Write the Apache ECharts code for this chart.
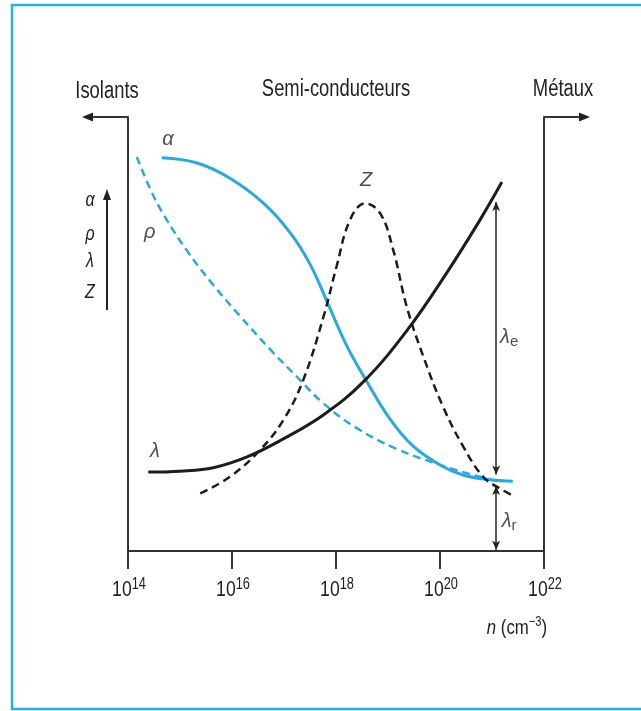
<!DOCTYPE html>
<html>
<head>
<meta charset="utf-8">
<script src="https://cdn.jsdelivr.net/npm/echarts@6.0.0/dist/echarts.min.js"></script>
<style>
  html, body { margin: 0; padding: 0; background: #fff; }
  #chart { width: 641px; height: 711px; }
</style>
</head>
<body>
<div id="chart"></div>
<script>
// x = log10(n) with n in cm^-3, y = relative magnitude (0..100)
const tickExponents = [14, 16, 18, 20, 22];

const alphaCurve = [
  [14.65, 90.6], [15.33, 89.4], [15.96, 85.9], [16.60, 80.2], [17.12, 73.3],
  [17.50, 66.1], [17.83, 57.4], [18.21, 47.2], [18.60, 38.9], [19.04, 30.4],
  [19.48, 24.2], [20.00, 19.8], [20.44, 17.5], [20.96, 16.4], [21.40, 16.1]
];
const rhoCurve = [
  [14.17, 90.8], [14.42, 83.6], [14.69, 77.4], [15.14, 69.1], [15.64, 61.3],
  [16.15, 54.2], [16.73, 46.5], [17.25, 40.1], [17.75, 34.1], [18.40, 28.3],
  [19.17, 23.5], [19.94, 20.1], [20.58, 17.7], [21.10, 16.1]
];
const lambdaCurve = [
  [14.39, 18.2], [15.00, 18.4], [15.64, 19.2], [16.29, 21.7], [16.92, 25.4],
  [17.75, 31.3], [18.52, 38.9], [19.37, 50.9], [20.13, 64.1], [20.77, 76.3],
  [21.19, 85.0]
];
const zCurve = [
  [15.39, 13.3], [15.96, 17.1], [16.54, 23.3], [16.99, 30.2], [17.37, 39.4],
  [17.76, 54.0], [18.01, 65.5], [18.27, 76.3], [18.56, 80.1], [18.85, 77.8],
  [19.10, 69.4], [19.36, 56.3], [19.68, 44.8], [20.06, 33.2], [20.45, 24.0],
  [20.83, 17.1], [21.15, 14.4], [21.38, 12.9]
];

// lambda_e / lambda_r split at a metallic concentration
const markerX = 21.08;
const lambdaESpan = [80.4, 17.6];
const lambdaRSpan = [15.0, 0.3];

// curve name tags: [x, y, text]
const curveTags = [
  [14.77, 94.9, 'α'],
  [14.42, 73.3, 'ρ'],
  [14.52, 23.0, 'λ'],
  [18.58, 85.3, 'Z']
];
const markerTags = [
  [21.33, 49.3, 'e'],
  [21.33, 6.9, 'r']
];

const regionLabels = ['Isolants', 'Semi-conducteurs', 'Métaux'];
const quantityLabels = ['α', 'ρ', 'λ', 'Z'];

const FONT = "'Liberation Sans', Arial, sans-serif";
const NARROW = 0.8;
const INK = '#222';
const BLUE = '#27aae1';
const BLACK = '#1c1c1c';

const chart = echarts.init(document.getElementById('chart'), null, { renderer: 'canvas' });

const curveLine = (name, data, color, width, dashed) => ({
  name, type: 'line', data, showSymbol: false, smooth: 0.4,
  lineStyle: { color, width, type: dashed ? [8, 5] : 'solid' }
});

const option = {
  animation: false,
  backgroundColor: '#fff',
  grid: { left: 128, right: 97, top: 117, bottom: 160 },
  xAxis: {
    type: 'value', min: 14, max: 22, interval: 2,
    splitLine: { show: false },
    axisLine: { lineStyle: { color: '#333', width: 2 } },
    axisTick: { length: 18, lineStyle: { color: '#333', width: 2 } },
    axisLabel: { show: false }
  },
  yAxis: [
    {
      type: 'value', min: 0, max: 100, position: 'left',
      splitLine: { show: false }, axisTick: { show: false }, axisLabel: { show: false },
      axisLine: { show: true, lineStyle: { color: '#333', width: 2 } }
    },
    {
      type: 'value', min: 0, max: 100, position: 'right',
      splitLine: { show: false }, axisTick: { show: false }, axisLabel: { show: false },
      axisLine: { show: true, lineStyle: { color: '#333', width: 2 } }
    }
  ],
  series: [
    curveLine('rho', rhoCurve, BLUE, 2.5, true),
    curveLine('alpha', alphaCurve, BLUE, 3, false),
    curveLine('Z', zCurve, BLACK, 2.5, true),
    Object.assign(curveLine('lambda', lambdaCurve, BLACK, 3, false), {
      markLine: {
        silent: true,
        symbol: ['arrow', 'arrow'],
        symbolSize: [6, 9],
        label: { show: false },
        lineStyle: { color: '#222', width: 1.5, type: 'solid' },
        data: [
          [{ coord: [markerX, lambdaESpan[0]] }, { coord: [markerX, lambdaESpan[1]] }],
          [{ coord: [markerX, lambdaRSpan[0]] }, { coord: [markerX, lambdaRSpan[1]] }]
        ]
      }
    }),
    {
      name: 'tags', type: 'scatter', symbolSize: 0, silent: true,
      data: curveTags.map(t => ({ value: [t[0], t[1]], label: { formatter: t[2] } })),
      label: {
        show: true, position: 'inside',
        fontFamily: FONT, fontStyle: 'italic', fontSize: 20, color: INK
      }
    },
    {
      name: 'markerTags', type: 'scatter', symbolSize: 0, silent: true,
      data: markerTags.map(t => ({ value: [t[0], t[1]], label: { formatter: `{l|λ}{s|${t[2]}}` } })),
      label: {
        show: true, position: 'inside',
        rich: {
          l: { fontFamily: FONT, fontStyle: 'italic', fontSize: 20, color: INK, lineHeight: 24 },
          s: { fontFamily: FONT, fontSize: 15, color: INK, verticalAlign: 'bottom', lineHeight: 14 }
        }
      }
    }
  ]
};

chart.setOption(option);

// frame, axis extensions, tick labels and captions, placed from the grid geometry
const topLeft = chart.convertToPixel({ gridIndex: 0 }, [14, 100]);
const topRight = chart.convertToPixel({ gridIndex: 0 }, [22, 100]);
const xL = topLeft[0], xR = topRight[0], yT = topLeft[1];
const armLen = 46;

function arrowHead(tipX, tipY, dir) {
  let pts;
  if (dir === 'up') pts = [[tipX, tipY], [tipX - 4, tipY + 11], [tipX + 4, tipY + 11]];
  else pts = [[tipX, tipY], [tipX - dir * 11, tipY - 4.5], [tipX - dir * 11, tipY + 4.5]];
  return { type: 'polygon', shape: { points: pts }, style: { fill: '#222' }, silent: true };
}

function narrowText(x, y, style) {
  return {
    type: 'text', x, y, scaleX: NARROW, silent: true,
    style: Object.assign({ fontFamily: FONT, fontSize: 22, fill: INK, align: 'center', verticalAlign: 'middle' }, style)
  };
}

const graphics = [
  {
    type: 'rect', shape: { x: 12, y: 5, width: 640, height: 704 },
    style: { fill: 'none', stroke: '#22b1ee', lineWidth: 2.5 }, silent: true, z: 0
  },
  {
    type: 'polyline', shape: { points: [[xL, yT], [xL - armLen + 6, yT]] },
    style: { stroke: '#333', lineWidth: 2 }, silent: true
  },
  arrowHead(xL - armLen, yT, -1),
  {
    type: 'polyline', shape: { points: [[xR, yT], [xR + armLen - 6, yT]] },
    style: { stroke: '#333', lineWidth: 2 }, silent: true
  },
  arrowHead(xR + armLen, yT, 1),
  narrowText(107, 92, { text: regionLabels[0], fontSize: 23 }),
  narrowText(336, 90, { text: regionLabels[1], fontSize: 23 }),
  narrowText(563, 90, { text: regionLabels[2], fontSize: 23 }),
  // quantity key on the left with its upward arrow
  {
    type: 'line', shape: { x1: 107, y1: 310, x2: 107, y2: 198 },
    style: { stroke: '#222', lineWidth: 2 }, silent: true
  },
  arrowHead(107, 189, 'up'),
  narrowText(517, 628, {
    text: '{i|n}{r| (cm}{s|−3}{r|)}',
    rich: {
      i: { fontFamily: FONT, fontStyle: 'italic', fontSize: 21, fill: INK, lineHeight: 26 },
      r: { fontFamily: FONT, fontSize: 21, fill: INK, lineHeight: 26 },
      s: { fontFamily: FONT, fontSize: 14, fill: INK, verticalAlign: 'top', lineHeight: 14 }
    }
  })
];

// powers-of-ten labels under each tick
tickExponents.forEach(e => {
  const p = chart.convertToPixel({ gridIndex: 0 }, [e, 0]);
  graphics.push(narrowText(p[0] + 1, p[1] + 39, {
    text: `{b|10}{s|${e}}`,
    rich: {
      b: { fontFamily: FONT, fontSize: 22, fill: INK, lineHeight: 26 },
      s: { fontFamily: FONT, fontSize: 16, fill: INK, verticalAlign: 'top', lineHeight: 15 }
    }
  }));
});

const keyY = [200, 234, 261, 292];
quantityLabels.forEach((q, i) => {
  graphics.push(narrowText(90, keyY[i], { text: q, fontStyle: 'italic', fontSize: 20 }));
});

chart.setOption({ graphic: graphics });
</script>
</body>
</html>
